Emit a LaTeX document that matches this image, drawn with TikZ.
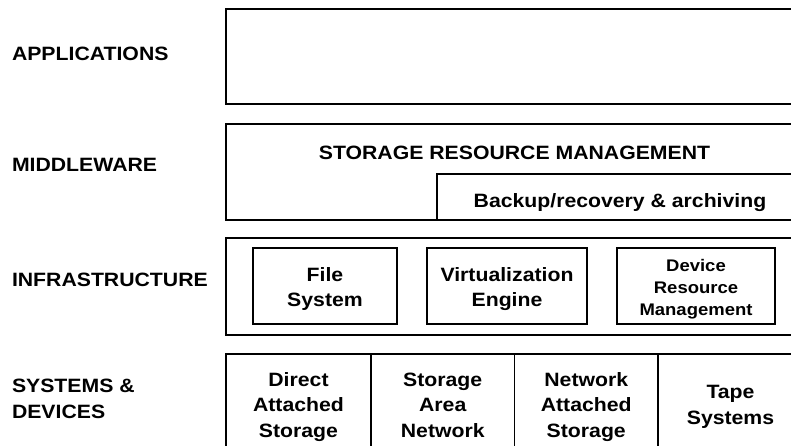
\documentclass[tikz,border=0pt]{standalone}
\usepackage{fontspec}
\setmainfont{Liberation Sans}[FakeStretch=1.1]
\begin{document}
\begin{tikzpicture}[x=1bp,y=-1bp,
  every node/.style={font=\fontsize{19.3bp}{25.5bp}\selectfont\bfseries, inner sep=0pt, outer sep=0pt},
  boxline/.style={draw, line width=1.5bp},
  layerbox/.style={boxline, minimum width=577bp, anchor=north west},
  innerbox/.style={boxline, minimum height=76bp},
  cellbox/.style={boxline, minimum height=101bp},
  boxtext/.style={anchor=base, align=center},
  layerlabel/.style={anchor=base west, align=left},
  smalltext/.style={font=\fontsize{16.8bp}{22bp}\selectfont\bfseries}]
\useasboundingbox (0,0) rectangle (791,446);
\clip (0,0) rectangle (791,446);
% layer labels
\node[layerlabel] (lapp) at (12,61) {APPLICATIONS};
\node[layerlabel] (lmid) at (12,172) {MIDDLEWARE};
\node[layerlabel] (linf) at (12,287) {INFRASTRUCTURE};
\node[layerlabel] (lsys) at (12,418) {SYSTEMS \&\\DEVICES};
% applications
\node[layerbox, minimum height=95bp] (app) at (226,9) {};
% middleware
\node[layerbox, minimum height=96bp] (mid) at (226,124) {};
\node[boxtext] (srm) at (514.5,160) {STORAGE RESOURCE MANAGEMENT};
\node[boxline, minimum width=366bp, minimum height=46bp, anchor=north west] (bak) at (437,174) {};
\node[boxtext] (baktxt) at (620,208) {Backup/recovery \& archiving};
% infrastructure
\node[layerbox, minimum height=97bp] (inf) at (226,238) {};
\node[innerbox, minimum width=144bp] (fs) at (325,286) {};
\node[innerbox, minimum width=160bp] (ve) at (507,286) {};
\node[innerbox, minimum width=158bp] (drm) at (696,286) {};
\node[boxtext] (fstxt) at (fs.center |- 0,307) {File\\System};
\node[boxtext] (vetxt) at (ve.center |- 0,307) {Virtualization\\Engine};
\node[boxtext, smalltext] (drmtxt) at (drm.center |- 0,316) {Device\\Resource\\Management};
% systems & devices
\node[cellbox, minimum width=145bp] (das) at (298.5,404.5) {};
\node[cellbox, minimum width=143.5bp] (san) at (442.75,404.5) {};
\node[cellbox, minimum width=143.5bp] (nas) at (586.25,404.5) {};
\node[cellbox, minimum width=145bp] (tape) at (730.5,404.5) {};
\node[boxtext] (dastxt) at (das.center |- 0,437) {Direct\\Attached\\Storage};
\node[boxtext] (santxt) at (san.center |- 0,437) {Storage\\Area\\Network};
\node[boxtext] (nastxt) at (nas.center |- 0,437) {Network\\Attached\\Storage};
\node[boxtext] (tapetxt) at (tape.center |- 0,424) {Tape\\Systems};
\end{tikzpicture}
\end{document}
